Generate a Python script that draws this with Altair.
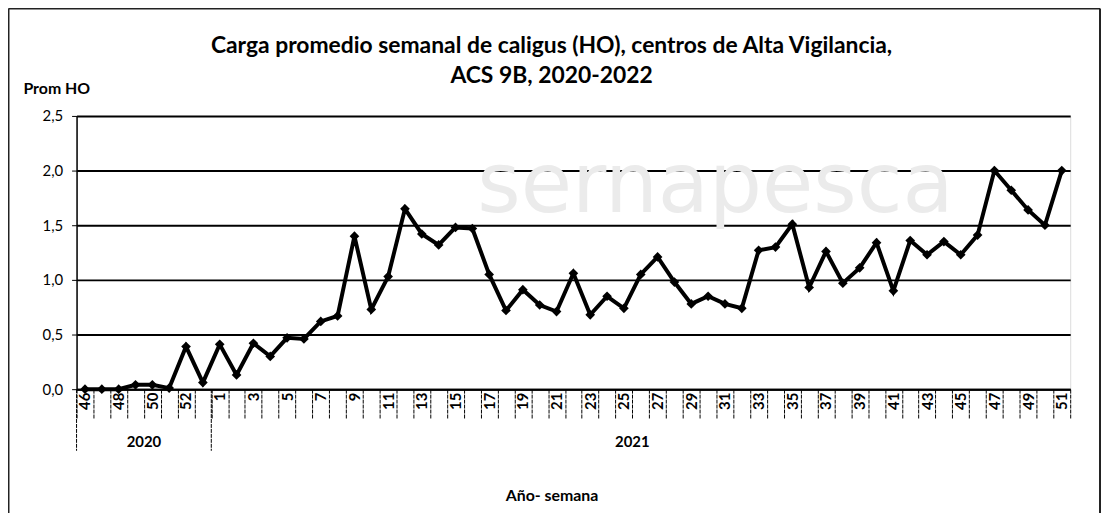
import altair as alt
import pandas as pd

# ---- data ----
weeks_2020 = [46, 47, 48, 49, 50, 51, 52, 53]
values_2020 = [0.0, 0.0, 0.0, 0.04, 0.04, 0.01, 0.39, 0.06]
weeks_2021 = list(range(1, 52))
values_2021 = [0.41, 0.13, 0.42, 0.30, 0.47, 0.46, 0.62, 0.67, 1.40, 0.73,
               1.03, 1.65, 1.42, 1.32, 1.48, 1.47, 1.05, 0.72, 0.91, 0.77,
               0.71, 1.06, 0.68, 0.85, 0.74, 1.05, 1.21, 0.98, 0.78, 0.85,
               0.78, 0.74, 1.27, 1.30, 1.51, 0.93, 1.26, 0.97, 1.11, 1.34,
               0.90, 1.36, 1.23, 1.35, 1.23, 1.41, 2.00, 1.82, 1.64, 1.50,
               2.00]
years = ["2020", "2021"]
y_ticks = [0, 0.5, 1.0, 1.5, 2.0, 2.5]

title_line1 = "Carga promedio semanal de caligus (HO), centros de Alta Vigilancia,"
title_line2 = "ACS 9B, 2020-2022"
y_title = "Prom HO"
x_title = "Año- semana"

keys = [f"2020-{w}" for w in weeks_2020] + [f"2021-{w}" for w in weeks_2021]
vals = values_2020 + values_2021
df = pd.DataFrame({"key": keys, "value": vals})

sep_df = pd.DataFrame({"key": ["2020-46", "2021-1"]})
year_df = pd.DataFrame({"key": ["2020-50", "2021-26"], "year": years})

FONT = "Lato"
W, H = 1000, 275

label_expr = ("((toNumber(split(datum.label,'-')[0]) == 2020) == "
              "(toNumber(split(datum.label,'-')[1]) % 2 == 0)) ? "
              "split(datum.label,'-')[1] : ''")

x_enc = alt.X(
    "key:N", sort=keys, title=x_title,
    scale=alt.Scale(domain=keys, paddingInner=0, paddingOuter=0),
    axis=alt.Axis(
        labelExpr=label_expr, labelAngle=270, labelAlign="right",
        labelBaseline="middle", labelFont=FONT, labelFontSize=15,
        labelFontWeight="bold", labelColor="black", labelPadding=-26,
        tickBand="extent", tickSize=29, tickColor="black", tickWidth=1,
        tickDash=[4, 1], domain=True, domainColor="black", domainWidth=2,
        grid=False, titleFont=FONT, titleFontSize=16, titleFontWeight="bold",
        titleColor="black", titleX=478, titleY=107, titleBaseline="middle",
        titleAnchor="middle", titleAlign="center", labelOverlap=False,
    ),
)

y_enc = alt.Y(
    "value:Q", title=y_title,
    scale=alt.Scale(domain=[0, 2.5], nice=False, zero=True),
    axis=alt.Axis(
        values=y_ticks,
        labelExpr="replace(format(datum.value, '.1f'), '.', ',')",
        labelFont=FONT, labelFontSize=15, labelColor="black", labelPadding=9,
        tickSize=5, tickColor="black", domainColor="black", domainWidth=1.5,
        gridColor="black", gridWidth=2, gridOpacity=1,
        titleAngle=0, titleAlign="left", titleBaseline="middle",
        titleX=-54, titleY=-28, titleFont=FONT, titleFontSize=16,
        titleFontWeight="bold", titleColor="black",
    ),
)

one = pd.DataFrame({"k": [0]})

watermark = alt.Chart(pd.DataFrame({"t": ["sernapesca"]})).mark_text(
    font="DejaVu Sans", fontSize=84, color="#ebebeb", opacity=1,
    align="center", baseline="middle",
).encode(x=alt.value(643), y=alt.value(72), text="t:N")

title1 = alt.Chart(one).mark_text(
    font=FONT, fontSize=23, fontWeight="bold", color="black",
    align="center", baseline="middle", text=title_line1,
).encode(x=alt.value(478), y=alt.value(-70))
title2 = alt.Chart(one).mark_text(
    font=FONT, fontSize=23, fontWeight="bold", color="black",
    align="center", baseline="middle", text=title_line2,
).encode(x=alt.value(478), y=alt.value(-40))

line = alt.Chart(df).mark_line(color="black", strokeWidth=4).encode(
    x=x_enc, y=y_enc
)
points = alt.Chart(df).mark_point(
    shape="diamond", filled=True, color="black", size=95, opacity=1
).encode(x=alt.X("key:N", sort=keys), y="value:Q")

seps = alt.Chart(sep_df).mark_rule(
    color="black", strokeWidth=1, strokeDash=[4, 1]
).encode(
    x=alt.X("key:N", sort=keys, bandPosition=0),
    y=alt.value(H), y2=alt.value(H + 62),
)

year_text = alt.Chart(year_df).mark_text(
    font=FONT, fontSize=15, fontWeight="bold", color="black",
    baseline="middle", align="center",
).encode(
    x=alt.X("key:N", sort=keys, bandPosition=0),
    y=alt.value(H + 53), text="year:N",
)

frame_left = alt.Chart(one).mark_rule(color="#222", strokeWidth=2).encode(
    x=alt.value(-68.5), y=alt.value(-108), y2=alt.value(H + 125))
frame_right = alt.Chart(one).mark_rule(color="#222", strokeWidth=2).encode(
    x=alt.value(1030), y=alt.value(-108), y2=alt.value(H + 125))
frame_top = alt.Chart(one).mark_rule(color="#222", strokeWidth=2).encode(
    x=alt.value(-68.5), x2=alt.value(1030), y=alt.value(-108))

chart = alt.layer(
    watermark, line, points, seps, year_text, title1, title2,
    frame_left, frame_right, frame_top
).properties(
    width=W, height=H,
    autosize=alt.AutoSizeParams(type="none"),
    padding={"left": 69, "top": 107, "right": 31, "bottom": 123},
).configure_view(stroke=None).configure(background="white")

chart.save("out.html", embed_options={"renderer": "svg", "actions": False})
